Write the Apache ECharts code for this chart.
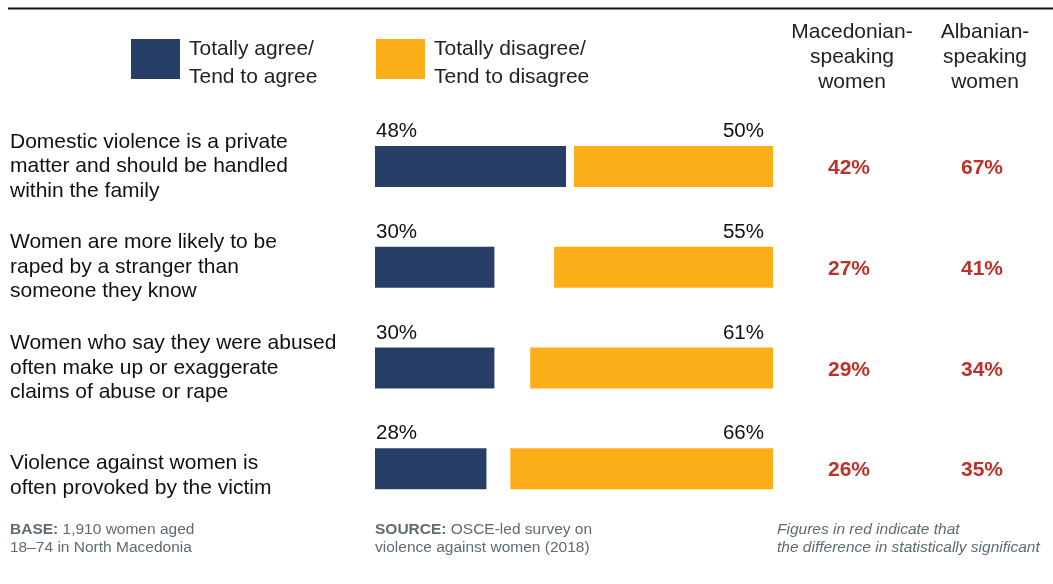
<!DOCTYPE html>
<html>
<head>
<meta charset="utf-8">
<script src="https://cdn.jsdelivr.net/npm/echarts@6/dist/echarts.min.js"></script>
<style>
html,body{margin:0;padding:0;background:#fff;}
#chart{width:1053px;height:584px;}
</style>
</head>
<body>
<div id="chart"></div>
<script>
const categories = [
  'Domestic violence is a private\nmatter and should be handled\nwithin the family',
  'Women are more likely to be\nraped by a stranger than\nsomeone they know',
  'Women who say they were abused\noften make up or exaggerate\nclaims of abuse or rape',
  'Violence against women is\noften provoked by the victim'
];
const agree = [48, 30, 30, 28];
const disagree = [50, 55, 61, 66];
const macedonian = [42, 27, 29, 26];
const albanian = [67, 41, 34, 35];
const columnHeaders = ['Macedonian-\nspeaking\nwomen', 'Albanian-\nspeaking\nwomen'];
const agreeName = 'Totally agree/\nTend to agree';
const disagreeName = 'Totally disagree/\nTend to disagree';

const gap = agree.map((a, i) => 100 - a - disagree[i]);
const FONT = 'Liberation Sans, Arial, sans-serif';
const NAVY = '#273F66';
const ORANGE = '#FDAF1A';
const RED = '#BE3129';
const GRAY = '#5F6B74';

const tableData = [];
macedonian.forEach((v, i) => tableData.push([0, i, v]));
albanian.forEach((v, i) => tableData.push([1, i, v]));

const legendText = {
  fontSize: 21, lineHeight: 28, color: '#222', fontFamily: FONT, padding: [0, 0, 0, 4],
  rich: {
    s: { fontSize: 8, lineHeight: 8 },
    t: { fontSize: 21, lineHeight: 28, color: '#222', fontFamily: FONT }
  }
};
const legendFormatter = name => '{s| }\n' + name.split('\n').map(l => '{t|' + l + '}').join('\n');

const chart = echarts.init(document.getElementById('chart'));
chart.setOption({
  animation: false,
  textStyle: { fontFamily: FONT },
  legend: [
    {
      data: [agreeName], left: 126, top: 22, icon: 'rect',
      itemWidth: 49, itemHeight: 40, selectedMode: false,
      formatter: legendFormatter, textStyle: legendText
    },
    {
      data: [disagreeName], left: 371, top: 22, icon: 'rect',
      itemWidth: 49, itemHeight: 40, selectedMode: false,
      formatter: legendFormatter, textStyle: legendText
    }
  ],
  grid: [
    { left: 375, width: 398, top: 116, height: 403 },
    { left: 782.5, width: 266, top: 116, height: 403 }
  ],
  xAxis: [
    { type: 'value', min: 0, max: 100, gridIndex: 0, show: false },
    {
      type: 'category', gridIndex: 1, data: columnHeaders, position: 'top',
      axisLine: { show: false }, axisTick: { show: false }, splitLine: { show: false },
      axisLabel: { fontSize: 21, lineHeight: 25, color: '#222', margin: 21.5, padding: [0, 0, 0, 6], fontFamily: FONT, interval: 0 }
    }
  ],
  yAxis: [
    {
      type: 'category', gridIndex: 0, data: categories, inverse: true,
      axisLine: { show: false }, axisTick: { show: false }, splitLine: { show: false },
      axisLabel: {
        align: 'left', margin: 365, fontSize: 21, lineHeight: 24.5, color: '#111', fontFamily: FONT,
        formatter: function (v) {
          const lines = v.split('\n');
          if (lines.length === 2) return '{s| }\n' + lines.map(l => '{n|' + l + '}').join('\n');
          return lines.map(l => '{n|' + l + '}').join('\n');
        },
        rich: {
          s: { fontSize: 10, lineHeight: 14 },
          n: { fontSize: 21, lineHeight: 24.5, color: '#111', fontFamily: FONT }
        }
      }
    },
    {
      type: 'category', gridIndex: 1, data: categories, inverse: true, show: false
    }
  ],
  series: [
    {
      name: agreeName, type: 'bar', stack: 'row', xAxisIndex: 0, yAxisIndex: 0,
      data: agree, barWidth: 41, itemStyle: { color: NAVY },
      label: {
        show: true, position: [1, -4], align: 'left', verticalAlign: 'bottom',
        formatter: '{c}%', fontSize: 20.5, color: '#111', fontFamily: FONT
      },
      emphasis: { disabled: true }
    },
    {
      name: 'gap', type: 'bar', stack: 'row', xAxisIndex: 0, yAxisIndex: 0,
      data: gap, barWidth: 41, itemStyle: { color: 'rgba(0,0,0,0)' }, silent: true,
      emphasis: { disabled: true }
    },
    {
      name: disagreeName, type: 'bar', stack: 'row', xAxisIndex: 0, yAxisIndex: 0,
      data: disagree, barWidth: 41, itemStyle: { color: ORANGE },
      label: {
        show: true, position: ['100%', -4], offset: [-9, 0], align: 'right', verticalAlign: 'bottom',
        formatter: '{c}%', fontSize: 20.5, color: '#111', fontFamily: FONT
      },
      emphasis: { disabled: true }
    },
    {
      name: 'table', type: 'scatter', xAxisIndex: 1, yAxisIndex: 1,
      data: tableData, symbolSize: 0.1, itemStyle: { color: 'rgba(0,0,0,0)', opacity: 1 },
      label: {
        show: true, position: 'inside', offset: [0, 2], opacity: 1,
        formatter: p => p.value[2] + '%',
        fontSize: 21, fontWeight: 'bold', color: RED, fontFamily: FONT
      },
      emphasis: { disabled: true }, silent: true
    }
  ],
  graphic: [
    {
      type: 'line', shape: { x1: 8, y1: 8.5, x2: 1053, y2: 8.5 },
      style: { stroke: '#151515', lineWidth: 2.2 }, silent: true
    },
    {
      type: 'text', left: 10, top: 521,
      style: {
        text: '{b|BASE:} 1,910 women aged\n18–74 in North Macedonia',
        font: '15.5px ' + FONT, fill: GRAY, lineHeight: 17.5,
        rich: { b: { fontWeight: 'bold', fontSize: 15.5, fill: GRAY, fontFamily: FONT } }
      }
    },
    {
      type: 'text', left: 375, top: 521,
      style: {
        text: '{b|SOURCE:} OSCE-led survey on\nviolence against women (2018)',
        font: '15.5px ' + FONT, fill: GRAY, lineHeight: 17.5,
        rich: { b: { fontWeight: 'bold', fontSize: 15.5, fill: GRAY, fontFamily: FONT } }
      }
    },
    {
      type: 'text', left: 777, top: 521,
      style: {
        text: 'Figures in red indicate that\nthe difference in statistically significant',
        font: 'italic 15.5px ' + FONT, fill: GRAY, lineHeight: 17.5
      }
    }
  ]
});
</script>
</body>
</html>
